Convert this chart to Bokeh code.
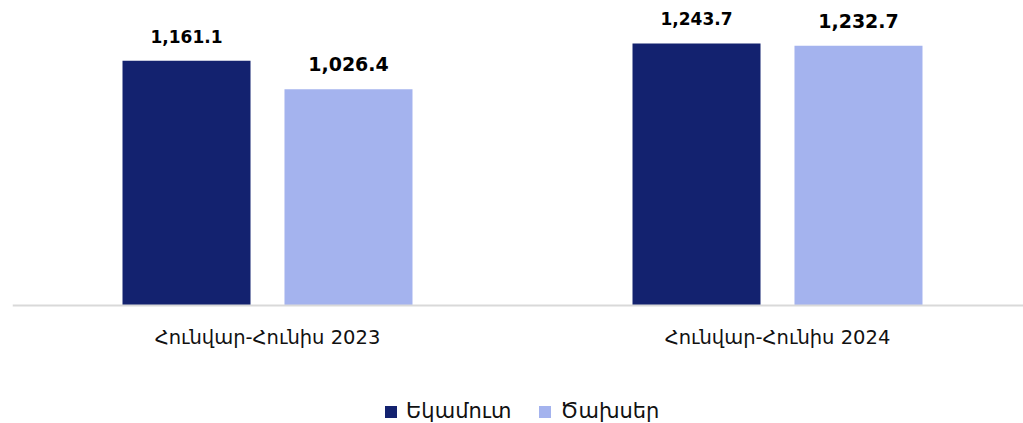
from bokeh.plotting import figure
from bokeh.models import ColumnDataSource, Range1d, FixedTicker, LabelSet, Legend, LegendItem, LinearAxis
from bokeh.transform import dodge
from bokeh.core.properties import value
from bokeh.embed import file_html
from bokeh.resources import INLINE

# ---- data ----
categories = ["Հունվար-Հունիս 2023", "Հունվար-Հունիս 2024"]
series_names = ["Եկամուտ", "Ծախսեր"]
income = [1161.1, 1243.7]
expenses = [1026.4, 1232.7]

dark = "#13226F"
light = "#A4B3EE"

xpos = [i + 0.5 for i in range(len(categories))]
src = ColumnDataSource(dict(
    x=xpos,
    income=income,
    expenses=expenses,
    income_lbl=[f"{v:,.1f}" for v in income],
    expenses_lbl=[f"{v:,.1f}" for v in expenses],
))

p = figure(width=1023, height=423, output_backend="svg", toolbar_location=None,
           x_range=Range1d(0, 1011 / 510), y_range=Range1d(-560, 1400),
           x_axis_location=None, y_axis_location=None,
           min_border_left=12, min_border_right=0, min_border_top=10, min_border_bottom=0)
p.outline_line_color = None
p.grid.visible = False

off = 0.1588
bw = 0.251
r1 = p.vbar(x=dodge("x", -off, range=p.x_range), top="income", width=bw, source=src,
            fill_color=dark, line_color=None)
r2 = p.vbar(x=dodge("x", off, range=p.x_range), top="expenses", width=bw, source=src,
            fill_color=light, line_color=None)

lab1 = LabelSet(x=dodge("x", -off, range=p.x_range), y="income", text="income_lbl", source=src,
                y_offset=18, text_align="center", text_baseline="alphabetic",
                text_font=value("DejaVu Sans"), text_font_style="bold", text_font_size="17px",
                text_color="#000000")
lab2 = LabelSet(x=dodge("x", off, range=p.x_range), y="expenses", text="expenses_lbl", source=src,
                y_offset=18, text_align="center", text_baseline="alphabetic",
                text_font=value("DejaVu Sans"), text_font_style="bold", text_font_size="19px",
                text_color="#000000")
p.add_layout(lab1)
p.add_layout(lab2)

ax = LinearAxis(fixed_location=0)
ax.ticker = FixedTicker(ticks=xpos)
ax.major_label_overrides = {x: c for x, c in zip(xpos, categories)}
ax.major_tick_line_color = None
ax.minor_tick_line_color = None
ax.major_tick_out = 0
ax.major_tick_in = 0
ax.axis_line_color = "#D9D9D9"
ax.axis_line_width = 2
ax.major_label_standoff = 20
ax.major_label_text_font = "DejaVu Sans"
ax.major_label_text_font_size = "19.5px"
ax.major_label_text_color = "#111111"
p.add_layout(ax, "below")

legend = Legend(items=[LegendItem(label=series_names[0], renderers=[r1]),
                       LegendItem(label=series_names[1], renderers=[r2])],
                orientation="horizontal", location=(371, 0),
                padding=0, margin=0, spacing=26, label_standoff=8,
                glyph_width=15, glyph_height=15, label_height=22,
                label_text_font="DejaVu Sans", label_text_font_size="21px",
                label_text_color="#111111", border_line_color=None,
                background_fill_alpha=0)
p.add_layout(legend)

open("out.html", "w").write(file_html(p, INLINE))
